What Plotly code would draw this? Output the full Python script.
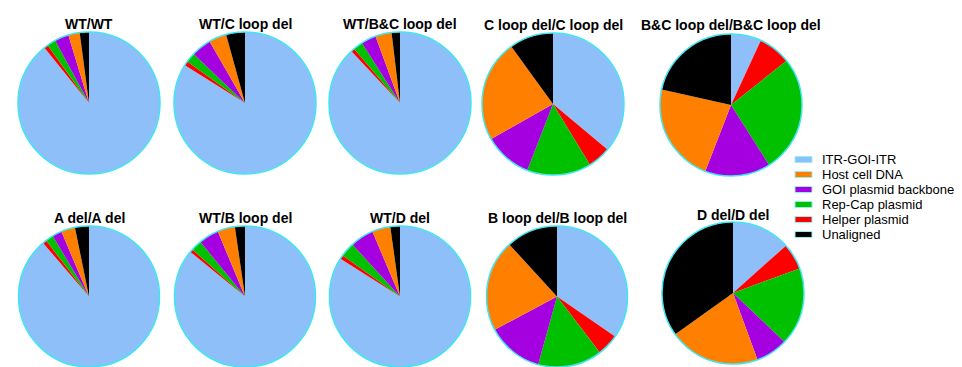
import plotly.graph_objects as go

W, H = 962, 367

# Slice order (clockwise from 12 o'clock) and legend order
slice_labels = ["ITR-GOI-ITR", "Helper plasmid", "Rep-Cap plasmid",
                "GOI plasmid backbone", "Host cell DNA", "Unaligned"]
legend_labels = ["ITR-GOI-ITR", "Host cell DNA", "GOI plasmid backbone",
                 "Rep-Cap plasmid", "Helper plasmid", "Unaligned"]
palette = {
    "ITR-GOI-ITR": "#8FBFF8",
    "Host cell DNA": "#FF8000",
    "GOI plasmid backbone": "#A500E0",
    "Rep-Cap plasmid": "#00C000",
    "Helper plasmid": "#FF0000",
    "Unaligned": "#000000",
}

samples = ["WT/WT", "WT/C loop del", "WT/B&C loop del", "C loop del/C loop del",
           "B&C loop del/B&C loop del",
           "A del/A del", "WT/B loop del", "WT/D del", "B loop del/B loop del",
           "D del/D del"]

# Percent of reads per category
itr_goi_itr = [89.2, 84.0, 88.0, 36.1, 6.9, 88.7, 85.9, 84.0, 34.6, 13.4]
helper      = [0.9, 1.0, 0.8, 5.2, 7.4, 0.9, 0.7, 0.9, 5.0, 6.0]
rep_cap     = [2.0, 2.2, 2.2, 14.6, 26.7, 1.8, 2.5, 3.3, 14.7, 17.7]
goi_backbone = [3.2, 4.6, 3.4, 10.9, 14.9, 2.2, 4.6, 5.4, 12.9, 7.3]
host_dna    = [2.6, 4.0, 3.7, 23.2, 22.6, 3.2, 4.0, 4.2, 21.0, 20.7]
unaligned   = [2.1, 4.3, 1.9, 10.0, 21.5, 3.2, 2.3, 2.2, 11.8, 34.9]

# Layout: pie centres / radius in pixels, title rows
pie_cx = [89, 245, 400, 553, 731, 89, 245, 400, 557, 733]
pie_cy = [103, 103, 103, 104, 105, 297, 297, 297, 297, 293]
pie_r = 71
title_y = [24, 24, 24, 25, 25, 218, 218, 218, 218, 215]

FONT = "Liberation Sans, Arial, Helvetica, sans-serif"
OUTLINE = "#3FE6F2"

fig = go.Figure()
shapes = []
annotations = []

for i, name in enumerate(samples):
    vals = [itr_goi_itr[i], helper[i], rep_cap[i], goi_backbone[i],
            host_dna[i], unaligned[i]]
    x0 = max(pie_cx[i] - pie_r, 0)
    x1 = min(pie_cx[i] + pie_r, W)
    top = max(pie_cy[i] - pie_r, 0)
    bot = min(pie_cy[i] + pie_r, H)
    fig.add_trace(go.Pie(
        labels=slice_labels,
        values=vals,
        sort=False,
        direction="clockwise",
        rotation=0,
        textinfo="none",
        hoverinfo="label+percent",
        marker=dict(colors=[palette[l] for l in slice_labels],
                    line=dict(width=0)),
        domain=dict(x=[x0 / W, x1 / W], y=[1 - bot / H, 1 - top / H]),
        showlegend=False,
        name=name,
    ))
    # outer rim, matched to the radius plotly derives from the domain
    r_eff = min(x1 - x0, bot - top) / 2
    cx = (x0 + x1) / 2
    cy = (top + bot) / 2
    shapes.append(dict(
        type="circle", xref="paper", yref="paper",
        x0=(cx - r_eff) / W, x1=(cx + r_eff) / W,
        y0=1 - (cy + r_eff) / H, y1=1 - (cy - r_eff) / H,
        line=dict(color=OUTLINE, width=1.5), fillcolor="rgba(0,0,0,0)",
    ))
    annotations.append(dict(
        text="<b>%s</b>" % name, x=pie_cx[i] / W, y=1 - title_y[i] / H,
        xref="paper", yref="paper", xanchor="center", yanchor="middle",
        showarrow=False, font=dict(family=FONT, size=14, color="#000000"),
    ))

# Legend: wide swatches with labels
leg_x0, leg_x1 = 795, 812
leg_text_x = 820
leg_y0, leg_dy, sw_h = 159.5, 15, 6
for k, lab in enumerate(legend_labels):
    yc = leg_y0 + k * leg_dy
    shapes.append(dict(
        type="rect", xref="paper", yref="paper",
        x0=leg_x0 / W, x1=leg_x1 / W,
        y0=1 - (yc + sw_h / 2) / H, y1=1 - (yc - sw_h / 2) / H,
        fillcolor=palette[lab], line=dict(color="#8FEFF5", width=1),
    ))
    annotations.append(dict(
        text=lab, x=leg_text_x / W, y=1 - yc / H,
        xref="paper", yref="paper", xanchor="left", yanchor="middle",
        showarrow=False, font=dict(family=FONT, size=13, color="#000000"),
    ))

fig.update_layout(
    width=W, height=H,
    margin=dict(l=0, r=0, t=0, b=0),
    paper_bgcolor="white", plot_bgcolor="white",
    showlegend=False,
    shapes=shapes,
    annotations=annotations,
)

fig.write_html("out.html")
